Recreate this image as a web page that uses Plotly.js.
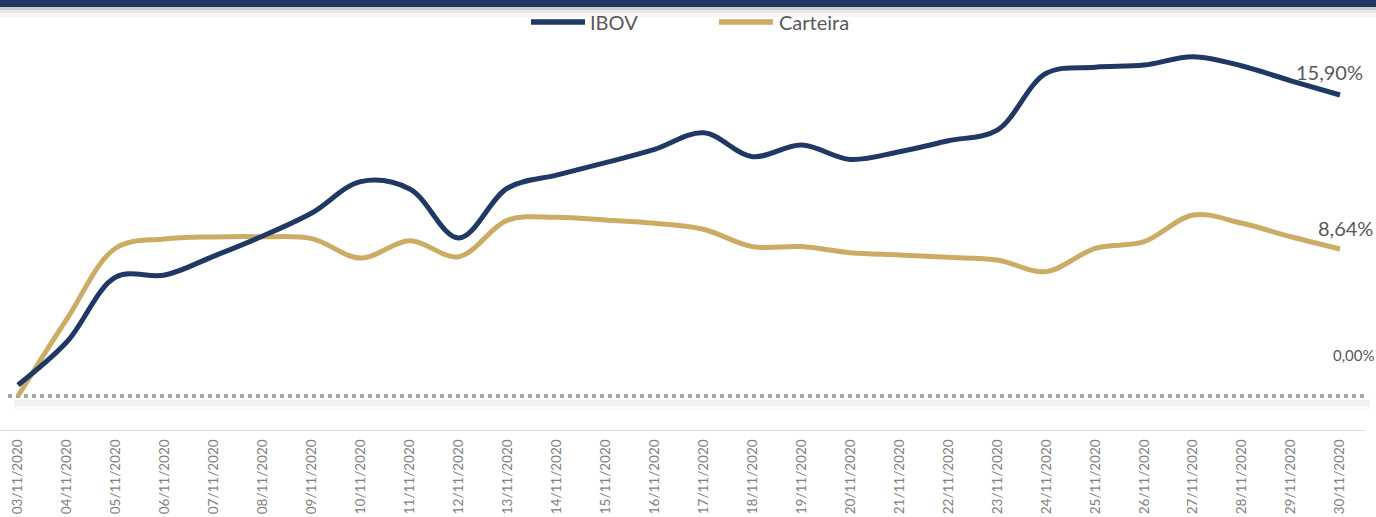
<!DOCTYPE html>
<html>
<head>
<meta charset="utf-8">
<script src="https://cdn.plot.ly/plotly-3.0.1.min.js"></script>
<style>
  html, body { margin: 0; padding: 0; background: #ffffff; }
  #chart { width: 1376px; height: 517px; }
</style>
</head>
<body>
<div id="chart"></div>
<script>
// ---- data ----
const dates = [
  "03/11/2020","04/11/2020","05/11/2020","06/11/2020","07/11/2020","08/11/2020","09/11/2020",
  "10/11/2020","11/11/2020","12/11/2020","13/11/2020","14/11/2020","15/11/2020","16/11/2020",
  "17/11/2020","18/11/2020","19/11/2020","20/11/2020","21/11/2020","22/11/2020","23/11/2020",
  "24/11/2020","25/11/2020","26/11/2020","27/11/2020","28/11/2020","29/11/2020","30/11/2020"
];
const ibov = [
  0.00, 2.37, 5.92, 6.03, 7.07, 8.17, 9.43,
  11.15, 10.75, 8.06, 10.80, 11.51, 12.19, 12.92,
  13.83, 12.52, 13.16, 12.37, 12.79, 13.39, 13.98,
  17.09, 17.42, 17.54, 18.00, 17.49, 16.68, 15.90
];
const carteira = [
  0.00, 4.53, 8.70, 9.23, 9.35, 9.36, 9.25,
  8.11, 9.13, 8.19, 10.34, 10.50, 10.34, 10.15,
  9.80, 8.78, 8.78, 8.42, 8.29, 8.15, 7.99,
  7.31, 8.68, 9.07, 10.64, 10.15, 9.36, 8.64
];
const seriesNames = ["IBOV", "Carteira"];
const seriesColors = ["#1F3864", "#CCAB65"];
const zeroLabel = "0,00%";

function fmtPct(v) { return v.toFixed(2).replace(".", ",") + "%"; }

const W = 1376, H = 517;
const mL = 0, mR = 11, mT = 0, mB = 87;
const plotW = W - mL - mR, plotH = H - mT - mB;
function px2paperX(px) { return (px - mL) / plotW; }
function px2paperY(py) { return (H - mB - py) / plotH; }

const traces = [
  {
    x: dates, y: ibov, name: seriesNames[0], type: "scatter", mode: "lines",
    yaxis: "y2",
    line: { color: seriesColors[0], width: 5, shape: "spline", smoothing: 1 },
    hoverinfo: "x+y"
  },
  {
    x: dates, y: carteira, name: seriesNames[1], type: "scatter", mode: "lines",
    yaxis: "y",
    line: { color: seriesColors[1], width: 5, shape: "spline", smoothing: 1 },
    hoverinfo: "x+y"
  }
];

const lastX = dates[dates.length - 1];
const labelFont = { family: "Lato, 'Open Sans', sans-serif", size: 20, color: "#595959" };

const shapes = [
  // top banner
  { type: "rect", xref: "paper", yref: "paper", x0: -0.01, x1: 1.02, y0: px2paperY(7), y1: px2paperY(-2),
    fillcolor: "#1F3864", line: { width: 0 }, layer: "above" },
  { type: "rect", xref: "paper", yref: "paper", x0: -0.01, x1: 1.02, y0: px2paperY(10), y1: px2paperY(7),
    fillcolor: "rgba(0,0,0,0.20)", line: { width: 0 } },
  { type: "rect", xref: "paper", yref: "paper", x0: -0.01, x1: 1.02, y0: px2paperY(13), y1: px2paperY(10),
    fillcolor: "rgba(0,0,0,0.09)", line: { width: 0 } },
  { type: "rect", xref: "paper", yref: "paper", x0: -0.01, x1: 1.02, y0: px2paperY(17), y1: px2paperY(13),
    fillcolor: "rgba(0,0,0,0.035)", line: { width: 0 } },
  // shadow under zero line
  { type: "rect", xref: "paper", yref: "paper", x0: px2paperX(14), x1: px2paperX(1370),
    y0: px2paperY(410), y1: px2paperY(399), fillcolor: "rgba(0,0,0,0.025)", line: { width: 0 }, layer: "below" },
  { type: "rect", xref: "paper", yref: "paper", x0: px2paperX(14), x1: px2paperX(1370),
    y0: px2paperY(406), y1: px2paperY(400), fillcolor: "rgba(0,0,0,0.03)", line: { width: 0 }, layer: "below" },
  // zero dotted line
  { type: "line", xref: "paper", yref: "y", x0: px2paperX(8), x1: px2paperX(1368), y0: 0, y1: 0,
    line: { color: "#A6A6A6", width: 4, dash: "dot" }, layer: "below" },
  // legend samples
  { type: "line", xref: "paper", yref: "paper", x0: px2paperX(531), x1: px2paperX(585),
    y0: px2paperY(22), y1: px2paperY(22), line: { color: seriesColors[0], width: 5.5 } },
  { type: "line", xref: "paper", yref: "paper", x0: px2paperX(719), x1: px2paperX(773),
    y0: px2paperY(22), y1: px2paperY(22), line: { color: seriesColors[1], width: 5.5 } }
];

const annotations = [
  { xref: "x", yref: "y2", x: lastX, y: ibov[ibov.length - 1], text: fmtPct(ibov[ibov.length - 1]),
    showarrow: false, xanchor: "center", yanchor: "middle", xshift: -10, yshift: 23, font: labelFont },
  { xref: "x", yref: "y", x: lastX, y: carteira[carteira.length - 1], text: fmtPct(carteira[carteira.length - 1]),
    showarrow: false, xanchor: "center", yanchor: "middle", xshift: 6, yshift: 21, font: labelFont },
  { xref: "x", yref: "y", x: lastX, y: 0, text: zeroLabel,
    showarrow: false, xanchor: "center", yanchor: "middle", xshift: 14, yshift: 41,
    font: { family: labelFont.family, size: 15, color: "#595959" } },
  { xref: "paper", yref: "paper", x: px2paperX(588), y: px2paperY(22), text: seriesNames[0],
    showarrow: false, xanchor: "left", yanchor: "middle", font: labelFont },
  { xref: "paper", yref: "paper", x: px2paperX(777), y: px2paperY(22), text: seriesNames[1],
    showarrow: false, xanchor: "left", yanchor: "middle", font: labelFont }
];

const layout = {
  width: W, height: H,
  margin: { l: mL, r: mR, t: mT, b: mB, pad: 0 },
  paper_bgcolor: "#ffffff", plot_bgcolor: "#ffffff",
  showlegend: false,
  xaxis: {
    type: "category", categoryorder: "array", categoryarray: dates,
    range: [-0.3676, 27.511],
    showgrid: false, zeroline: false,
    showline: true, linecolor: "#D9D9D9", linewidth: 1,
    ticks: "outside", ticklen: 3, tickcolor: "rgba(0,0,0,0)",
    tickangle: -90,
    tickfont: { family: "Lato, 'Open Sans', sans-serif", size: 13.5, color: "#7F7F7F" },
    fixedrange: true
  },
  yaxis: {
    range: [-1.998, 23.275], showgrid: false, zeroline: false, showline: false,
    showticklabels: false, ticks: "", fixedrange: true
  },
  yaxis2: {
    range: [-2.467, 21.109], overlaying: "y", side: "right", showgrid: false, zeroline: false,
    showline: false, showticklabels: false, ticks: "", fixedrange: true
  },
  shapes: shapes,
  annotations: annotations
};

Plotly.newPlot("chart", traces, layout, { displayModeBar: false, staticPlot: true });
</script>
</body>
</html>
